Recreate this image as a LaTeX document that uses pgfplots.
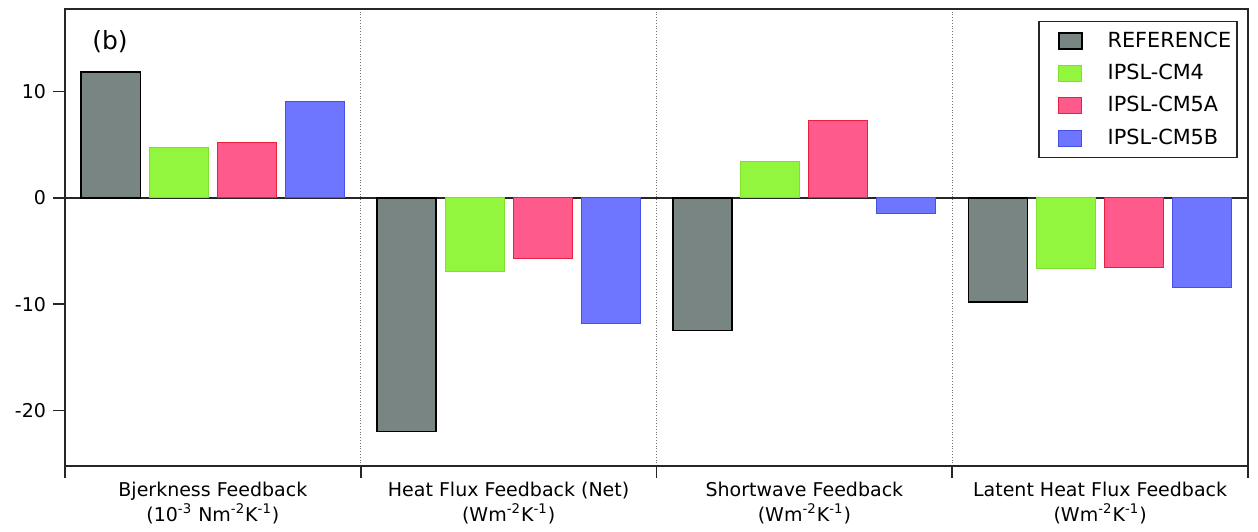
\documentclass[border=0pt]{standalone}
\usepackage{pgfplots}
\pgfplotsset{compat=1.18}
\usepackage{fontspec}
\setmainfont{DejaVu Sans}
\definecolor{cref}{RGB}{120,133,130}
\definecolor{cgreen}{RGB}{146,246,62}
\definecolor{cgreenb}{RGB}{125,225,45}
\definecolor{cpink}{RGB}{255,90,140}
\definecolor{cpinkb}{RGB}{232,32,62}
\definecolor{cblue}{RGB}{110,118,255}
\definecolor{cblueb}{RGB}{70,80,230}
\pgfplotsset{
  mybar/.style={ybar, bar width=0.2, bar shift=0pt,
    legend image code/.code={\path (0pt,0pt); \draw[##1,/tikz/.cd,yshift=-4pt] (6.5pt,0pt) rectangle (18pt,8pt);}},
}
\begin{document}
\begin{tikzpicture}
\begin{axis}[name=ax, scale only axis, width=591.5pt, height=228.5pt,
  xmin=-0.5, xmax=3.5, ymin=-25.2, ymax=17.75,
  axis line style={line width=0.8pt, black!85},
  tick align=outside, xtick pos=bottom, ytick pos=left,
  major tick length=6pt,
  tick style={line width=0.8pt, black!85},
  ytick={-20,-10,0,10},
  /pgf/number format/assume math mode=true,
  yticklabel style={font=\fontsize{9.5}{11}\selectfont},
  xtick={-0.5,0.5,1.5,2.5,3.5}, xticklabels={},
  xmajorgrids,
  major grid style={densely dotted, black!55, line width=0.5pt},
  extra x ticks={0,1,2,3},
  extra x tick labels={{Bjerkness Feedback\\(10\textsuperscript{-3} Nm\textsuperscript{-2}K\textsuperscript{-1})},
    {Heat Flux Feedback (Net)\\(Wm\textsuperscript{-2}K\textsuperscript{-1})},
    {Shortwave Feedback\\(Wm\textsuperscript{-2}K\textsuperscript{-1})},
    {Latent Heat Flux Feedback\\(Wm\textsuperscript{-2}K\textsuperscript{-1})}},
  extra x tick style={grid=none, major tick length=0pt},
  xticklabel style={align=center, font=\fontsize{9.5}{12.5}\selectfont, yshift=-4.5pt},
  extra y ticks={0}, extra y tick labels={},
  extra y tick style={grid=major, major grid style={solid, black!85, line width=0.7pt}, major tick length=0pt},
  legend style={at={(0.9915,0.974)}, anchor=north east, draw=black!85, line width=0.8pt,
    font=\fontsize{10.4}{12}\selectfont, row sep=3pt, inner xsep=3pt, inner ysep=3pt,
    nodes={inner xsep=0pt},
    /tikz/every odd column/.append style={column sep=12.5pt}},
  legend cell align=left,
]
\addplot[mybar, fill=cref, draw=black, line width=0.8pt] coordinates {(-0.345,11.83) (0.655,-21.94) (1.655,-12.47) (2.655,-9.81)};
\addlegendentry{REFERENCE}
\addplot[mybar, fill=cgreen, draw=cgreenb, line width=0.5pt] coordinates {(-0.115,4.77) (0.885,-6.94) (1.885,3.44) (2.885,-6.63)};
\addlegendentry{IPSL-CM4}
\addplot[mybar, fill=cpink, draw=cpinkb, line width=0.5pt] coordinates {(0.115,5.25) (1.115,-5.66) (2.115,7.25) (3.115,-6.59)};
\addlegendentry{IPSL-CM5A}
\addplot[mybar, fill=cblue, draw=cblueb, line width=0.5pt] coordinates {(0.345,9.03) (1.345,-11.84) (2.345,-1.47) (3.345,-8.47)};
\addlegendentry{IPSL-CM5B}
\node[font=\fontsize{12.5}{14}\selectfont] at (rel axis cs:0.038,0.928) {(b)};
\end{axis}
\pgfresetboundingbox
\path ([xshift=-32.5pt,yshift=-32.5pt]ax.south west) rectangle ([xshift=5pt,yshift=4.5pt]ax.north east);
\end{tikzpicture}
\end{document}
